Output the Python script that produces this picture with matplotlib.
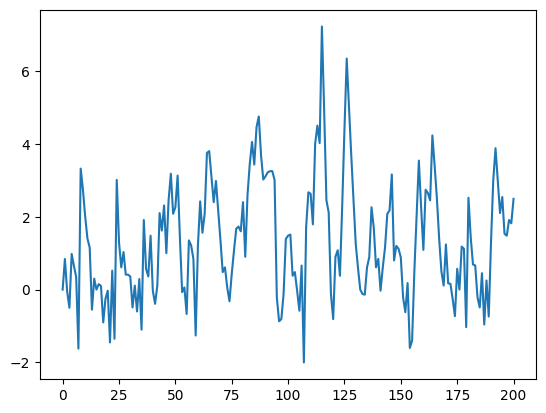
import numpy as np
import matplotlib
matplotlib.use("Agg")
import matplotlib.pyplot as plt

# values, one per step 0..200
values = [
    0.0, 0.84, -0.05, -0.5, 0.98, 0.65, 0.35, -1.62, 3.32, 2.75,
    2.0, 1.4, 1.15, -0.55, 0.3, 0.0, 0.15, 0.1, -0.9, -0.25,
    -0.03, -1.45, 0.52, -1.35, 3.01, 1.3, 0.61, 1.03, 0.41, 0.41,
    0.36, -0.49, 0.11, -0.6, 0.29, -1.1, 1.91, 0.57, 0.36, 1.48,
    -0.03, -0.39, 0.11, 2.1, 1.62, 2.31, 1.0, 2.46, 3.18, 2.08,
    2.26, 3.13, 1.44, -0.07, 0.06, -0.67, 1.35, 1.21, 0.84, -1.26,
    1.2, 2.42, 1.56, 2.08, 3.75, 3.8, 3.09, 2.4, 2.98, 2.17,
    1.35, 0.48, 0.61, 0.06, -0.32, 0.43, 1.07, 1.67, 1.73, 1.6,
    2.4, 0.9, 2.6, 3.45, 4.05, 3.43, 4.46, 4.75, 3.68, 3.02,
    3.11, 3.22, 3.25, 3.25, 3.01, -0.21, -0.87, -0.81, -0.12, 1.39,
    1.48, 1.51, 0.38, 0.48, -0.03, -0.58, 0.66, -2.0, 1.71, 2.67,
    2.63, 1.79, 4.0, 4.5, 4.02, 7.22, 4.9, 2.45, 2.12, -0.12,
    -0.81, 0.9, 1.08, 0.38, 2.3, 4.4, 6.34, 5.0, 3.7, 2.45,
    1.25, 0.6, 0.0, -0.12, -0.14, 0.61, 0.89, 2.26, 1.7, 0.61,
    0.84, -0.03, 0.61, 1.16, 2.08, 2.17, 3.16, 0.8, 1.2, 1.12,
    0.88, -0.21, -0.62, 0.18, -1.6, -1.4, 0.5, 2.0, 3.54, 2.26,
    1.09, 2.74, 2.65, 2.45, 4.23, 3.4, 2.5, 1.4, 0.5, 0.11,
    1.24, 0.17, 0.16, -0.26, -0.73, 0.57, 0.0, 1.18, 1.12, -1.03,
    2.52, 1.44, 0.69, 0.66, -0.21, -0.49, 0.45, -0.96, 0.25, -0.74,
    1.3, 3.0, 3.88, 3.0, 2.1, 2.54, 1.53, 1.48, 1.91, 1.82,
    2.49,
]
steps = np.arange(len(values))

fig, ax = plt.subplots()
ax.plot(steps, values)

fig.savefig("out.png", bbox_inches="tight")
